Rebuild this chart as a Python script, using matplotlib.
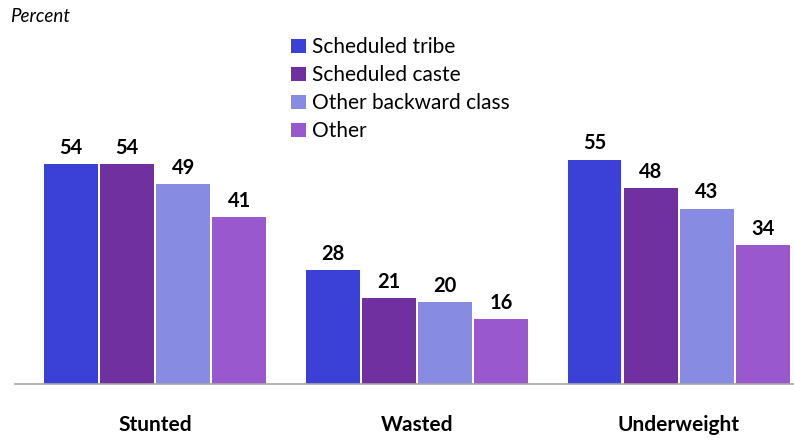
import numpy as np
import matplotlib.pyplot as plt

# Datos
categorias = ['Stunted', 'Wasted', 'Underweight']
grupos = ['Scheduled tribe', 'Scheduled caste', 'Other backward class', 'Other']
valores = {
    'Scheduled tribe': [54, 28, 55],
    'Scheduled caste': [54, 21, 48],
    'Other backward class': [49, 20, 43],
    'Other': [41, 16, 34],
}
colores = ['#3B41D6', '#7030A0', '#878BE2', '#9A58CE']

plt.rcParams['font.family'] = ['Lato', 'DejaVu Sans']

fig = plt.figure(figsize=(7.94, 4.4), dpi=100)
ax = fig.add_axes([15 / 794, 1 - 384 / 440, 1 - 15 / 794, 384 / 440])

x = np.arange(len(categorias))
ancho = 0.205
paso = 0.2145

for i, g in enumerate(grupos):
    pos = x + (i - 1.5) * paso
    barras = ax.bar(pos, valores[g], width=ancho, color=colores[i], label=g)
    for b, v in zip(barras, valores[g]):
        ax.text(b.get_x() + b.get_width() / 2, v + 1.5, str(v),
                ha='center', va='bottom', fontsize=14.5, fontweight='bold')

ax.set_xlim(-0.535, 2.44)
ax.set_ylim(0, 384 / 4.08)

for s in ['top', 'right', 'left']:
    ax.spines[s].set_visible(False)
ax.spines['bottom'].set_color('#a6a6a6')
ax.spines['bottom'].set_linewidth(1.2)
ax.set_yticks([])
ax.set_xticks(x)
ax.set_xticklabels(categorias, fontsize=15, fontweight='bold')
ax.tick_params(axis='x', length=0, pad=22)

ax.legend(loc='upper left', bbox_to_anchor=(268 / 779, 1 - 29 / 384), frameon=False,
          fontsize=15, handlelength=0.68, handleheight=0.68, handletextpad=0.3,
          labelspacing=0.38, borderaxespad=0)

fig.text(10 / 794, 1 - 17 / 440, 'Percent', fontsize=13.5, style='italic', va='center')

plt.savefig('out.png', dpi=100)
